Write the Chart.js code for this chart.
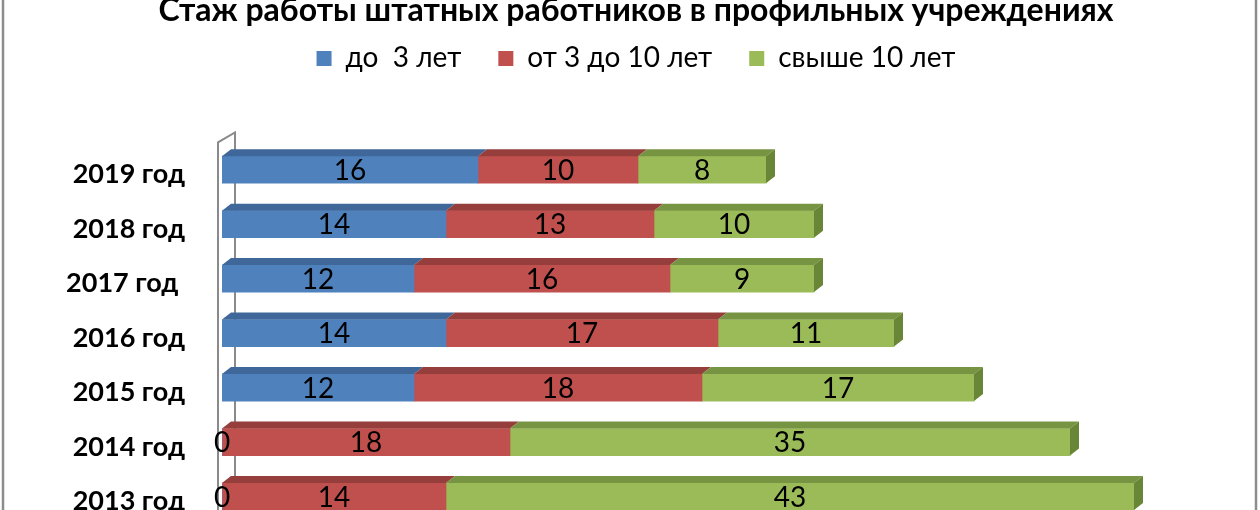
<!DOCTYPE html>
<html>
<head>
<meta charset="utf-8">
<style>
  html, body { margin: 0; padding: 0; background: #fff; overflow: hidden; }
  #wrap { position: absolute; left: 0; top: -20px; }
</style>
</head>
<body>
<div id="wrap"><canvas id="stazhChart" width="1260" height="597"></canvas></div>

<script src="https://cdn.jsdelivr.net/npm/chart.js"></script>

<script>
// данные с диаграммы
const years = ['2019 год', '2018 год', '2017 год ', '2016 год', '2015 год', '2014 год', '2013 год'];
const upTo3 = [16, 14, 12, 14, 12, 0, 0];
const from3to10 = [10, 13, 16, 17, 18, 18, 14];
const over10 = [8, 10, 9, 11, 17, 35, 43];
const seriesNames = ['до  3 лет', 'от 3 до 10 лет', 'свыше 10 лет'];

const FONT = 'Lato, "Open Sans", sans-serif';
const fills = ['#4f81bd', '#c0504d', '#9bbb59'];
const tops = ['#3f679a', '#963e3b', '#779442'];
const sides = ['#36598a', '#833533', '#698536'];
const DX = 9, DY = 7;

// рамка и "стенка" оси
const framePlugin = {
  id: 'frame',
  beforeDraw(chart) {
    const ctx = chart.ctx;
    ctx.save();
    ctx.strokeStyle = '#8c8c8c';
    ctx.lineWidth = 2.5;
    ctx.strokeRect(3, -10, 1253, 700);
    ctx.restore();
  },
  beforeDatasetsDraw(chart) {
    const {ctx, chartArea} = chart;
    const l = chartArea.left;
    ctx.save();
    ctx.strokeStyle = '#8a8a8a';
    ctx.lineWidth = 2;
    ctx.beginPath();
    ctx.moveTo(l - 4, chartArea.bottom + 40);
    ctx.lineTo(l - 4, chartArea.top);
    ctx.lineTo(l + 13, chartArea.top - 10);
    ctx.lineTo(l + 13, chartArea.bottom + 40);
    ctx.stroke();
    ctx.restore();
  }
};

// объём полос + подписи значений
const bar3dPlugin = {
  id: 'bar3d',
  afterDatasetsDraw(chart) {
    const ctx = chart.ctx;
    const metas = chart.data.datasets.map((d, i) => chart.getDatasetMeta(i));
    ctx.save();
    years.forEach((y, row) => {
      let last = null;
      metas.forEach((meta, di) => {
        const el = meta.data[row];
        const x1 = Math.min(el.base, el.x), x2 = Math.max(el.base, el.x);
        const top = el.y - el.height / 2;
        if (x2 - x1 < 0.5) return;
        ctx.fillStyle = tops[di];
        ctx.beginPath();
        ctx.moveTo(x1, top);
        ctx.lineTo(x1 + DX, top - DY);
        ctx.lineTo(x2 + DX, top - DY);
        ctx.lineTo(x2, top);
        ctx.closePath();
        ctx.fill();
        last = {el, di, x2, top};
      });
      if (last) {
        const bottom = last.top + last.el.height;
        ctx.fillStyle = sides[last.di];
        ctx.beginPath();
        ctx.moveTo(last.x2, last.top);
        ctx.lineTo(last.x2 + DX, last.top - DY);
        ctx.lineTo(last.x2 + DX, bottom - DY);
        ctx.lineTo(last.x2, bottom);
        ctx.closePath();
        ctx.fill();
      }
    });
    ctx.fillStyle = '#000';
    ctx.font = '28px ' + FONT;
    ctx.textAlign = 'center';
    ctx.textBaseline = 'middle';
    metas.forEach((meta, di) => {
      meta.data.forEach((el, row) => {
        const v = chart.data.datasets[di].data[row];
        ctx.fillText(String(v), (el.base + el.x) / 2, el.y + 1);
      });
    });
    ctx.restore();
  }
};

new Chart(document.getElementById('stazhChart').getContext('2d'), {
  type: 'bar',
  data: {
    labels: years,
    datasets: [
      { label: seriesNames[0], data: upTo3, backgroundColor: fills[0] },
      { label: seriesNames[1], data: from3to10, backgroundColor: fills[1] },
      { label: seriesNames[2], data: over10, backgroundColor: fills[2] }
    ]
  },
  options: {
    indexAxis: 'y',
    responsive: false,
    animation: false,
    datasets: { bar: { barThickness: 27, borderWidth: 0 } },
    layout: { padding: { top: 0, right: 14, bottom: 16, left: 26 } },
    plugins: {
      title: {
        display: true,
        text: 'Стаж работы штатных работников в профильных учреждениях',
        color: '#000',
        font: { family: FONT, size: 32, weight: 'bold' },
        padding: { top: 11, bottom: -22 }
      },
      legend: {
        display: true,
        labels: {
          color: '#000',
          boxWidth: 15,
          boxHeight: 15,
          padding: 37,
          font: { family: FONT, size: 28 }
        }
      },
      tooltip: { enabled: false }
    },
    scales: {
      x: {
        stacked: true, min: 0, max: 64, position: 'top',
        grid: { display: false, drawTicks: false },
        border: { display: false },
        ticks: { display: false },
        afterFit(scale) { scale.height = 60; }
      },
      y: {
        stacked: true,
        grid: { display: false, drawTicks: false },
        border: { display: false },
        afterFit(scale) { scale.width = 196; },
        ticks: {
          color: '#000',
          padding: 37,
          labelOffset: 5,
          font: { family: FONT, size: 27, weight: 'bold' }
        }
      }
    }
  },
  plugins: [framePlugin, bar3dPlugin]
});
</script>
</body>
</html>
